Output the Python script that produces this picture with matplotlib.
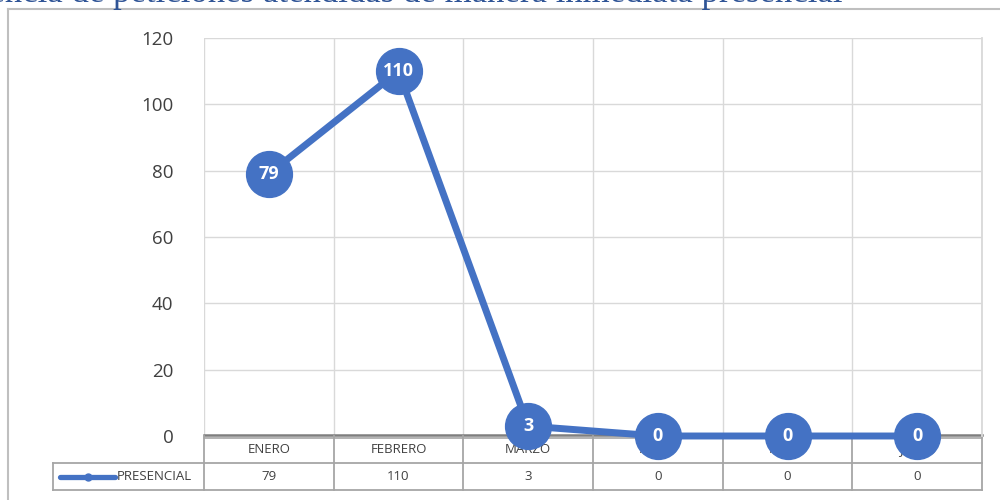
import matplotlib.pyplot as plt
from matplotlib.lines import Line2D

months = ["ENERO", "FEBRERO", "MARZO", "ABRIL", "MAYO", "JUNIO"]
presencial = [79, 110, 3, 0, 0, 0]
series_name = "PRESENCIAL"
yticks = [0, 20, 40, 60, 80, 100, 120]
title = "Frecuencia de peticiones atendidas de manera inmediata presencial"

BLUE = "#4472C4"
GRID = "#D9D9D9"
TABLE = "#A6A6A6"
FONT = "Open Sans"

W, H = 1000, 500
fig = plt.figure(figsize=(W / 100, H / 100), dpi=100)

# plot area in pixel terms
L, R, T, B = 204, 982, 38, 436
ax = fig.add_axes([L / W, 1 - B / H, (R - L) / W, (B - T) / H])
n = len(months)
ax.set_xlim(-0.5, n - 0.5)
ax.set_ylim(0, 120)
for s in ax.spines.values():
    s.set_visible(False)
ax.set_xticks([])
ax.set_yticks(yticks)
ax.set_yticklabels([str(v) for v in yticks], fontsize=13.5, color="#404040", family=FONT)
ax.tick_params(axis="y", length=0, pad=22)

# gridlines
for v in yticks[1:]:
    ax.axhline(v, color=GRID, lw=1, zorder=1)
for k in range(n + 1):
    ax.axvline(k - 0.5, color=GRID, lw=1, zorder=1)

# data table below the plot (axes fraction coords)
tr = ax.get_xaxis_transform()
hdr = -27 / (B - T)
row = -54 / (B - T)
x_leg = -0.5 - (L - 53) / (R - L) * n
# zero axis: doubled grey line
ax.plot([-0.5, n - 0.5], [0.003, 0.003], transform=tr, color="#7F7F7F", lw=1.8, clip_on=False, zorder=2)
ax.plot([-0.5, n - 0.5], [-0.006, -0.006], transform=tr, color="#A6A6A6", lw=1.2, clip_on=False, zorder=2)
ax.plot([x_leg, n - 0.5], [hdr, hdr], transform=tr, color=TABLE, lw=1.3, clip_on=False, zorder=2)
ax.plot([x_leg, n - 0.5], [row, row], transform=tr, color=TABLE, lw=1.3, clip_on=False, zorder=2)
ax.plot([x_leg, x_leg], [hdr, row], transform=tr, color=TABLE, lw=1.3, clip_on=False, zorder=2)
for k in range(n + 1):
    ax.plot([k - 0.5, k - 0.5], [0, row], transform=tr, color=TABLE, lw=1.3, clip_on=False, zorder=2)
ax.plot([n - 0.5, n - 0.5], [0, 1], transform=tr, color=GRID, lw=1.3, clip_on=False, zorder=2)

for i, (m, v) in enumerate(zip(months, presencial)):
    ax.text(i, hdr / 2, m, transform=tr, ha="center", va="center", fontsize=9.5,
            color="#404040", family=FONT, zorder=3)
    ax.text(i, (hdr + row) / 2, str(v), transform=tr, ha="center", va="center",
            fontsize=9.5, color="#404040", family=FONT, zorder=3)

# legend key inside the table
xk0 = x_leg + 7 / (R - L) * n
xk1 = x_leg + 62 / (R - L) * n
ax.add_line(Line2D([xk0, xk1], [(hdr + row) / 2] * 2, transform=tr, color=BLUE, lw=3.8,
                   solid_capstyle="round", clip_on=False, zorder=3))
ax.add_line(Line2D([(xk0 + xk1) / 2], [(hdr + row) / 2], transform=tr, color=BLUE,
                   marker="o", markersize=5, clip_on=False, zorder=3))
ax.text(xk1 + 0.015, (hdr + row) / 2, series_name, transform=tr, ha="left", va="center",
        fontsize=9.5, color="#404040", family=FONT, zorder=3)

# series
x = list(range(n))
ax.plot(x, presencial, color=BLUE, lw=5, marker="o", markersize=33,
        markeredgecolor=BLUE, clip_on=False, zorder=5, solid_capstyle="round")
for xi, v in zip(x, presencial):
    ax.text(xi, v, str(v), ha="center", va="center", color="white", fontsize=13,
            fontweight="bold", family=FONT, zorder=6, clip_on=False)

# outer frame (top and left edges)
fig.add_artist(Line2D([8 / W, 1], [1 - 9 / H] * 2, color="#BFBFBF", lw=1.5))
fig.add_artist(Line2D([8 / W, 8 / W], [0, 1 - 9 / H], color="#BFBFBF", lw=1.5))

# heading above the chart, running off the top edge
fig.text(843 / W, 1 - 1.8 / H, title, ha="right", va="baseline", fontsize=25,
         color="#2F5496", family="Liberation Serif")

fig.savefig("out.png", dpi=100)
